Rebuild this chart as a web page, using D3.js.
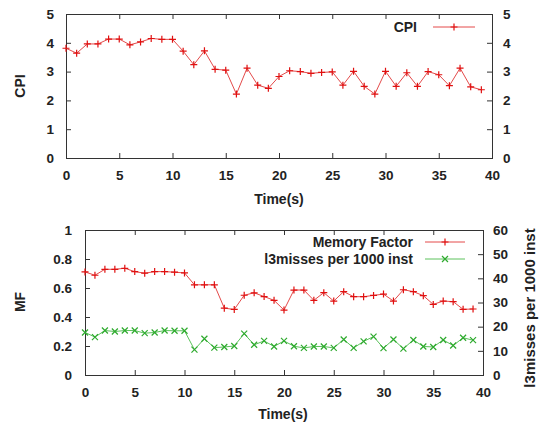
<!DOCTYPE html>
<html>
<head>
<meta charset="utf-8">
<script src="https://cdn.jsdelivr.net/npm/d3@7"></script>
<style>
  body { margin: 0; background: #fff; }
  #vis { width: 539px; height: 429px; }
  text { font-family: "Liberation Sans", Arial, sans-serif; font-weight: bold; fill: #222; }
</style>
</head>
<body>
<div id="vis"></div>
<script>
// time in seconds
var seconds = [0, 1, 2, 3, 4, 5, 6, 7, 8, 9, 10, 11, 12, 13, 14, 15, 16, 17, 18, 19,
    20, 21, 22, 23, 24, 25, 26, 27, 28, 29, 30, 31, 32, 33, 34, 35, 36, 37, 38, 39];

var cpi = [3.81, 3.64, 3.96, 3.96, 4.13, 4.13, 3.93, 4.03, 4.15, 4.12,
    4.12, 3.71, 3.24, 3.72, 3.08, 3.05, 2.22, 3.12, 2.53, 2.42,
    2.83, 3.03, 3.00, 2.94, 2.97, 2.99, 2.53, 3.01, 2.49, 2.22,
    3.01, 2.49, 2.96, 2.49, 3.00, 2.89, 2.51, 3.12, 2.47, 2.37];

var memory_factor = [0.711, 0.688, 0.729, 0.729, 0.736, 0.713, 0.702, 0.713, 0.713, 0.709,
    0.704, 0.622, 0.622, 0.622, 0.461, 0.452, 0.550, 0.567, 0.541, 0.515,
    0.448, 0.586, 0.586, 0.515, 0.568, 0.510, 0.575, 0.540, 0.540, 0.549,
    0.558, 0.510, 0.588, 0.575, 0.547, 0.487, 0.510, 0.506, 0.453, 0.455];

var l3_misses = [17.6, 15.7, 18.4, 18.0, 18.4, 18.4, 17.3, 17.6, 18.4, 18.3,
    18.3, 10.5, 15.0, 11.3, 11.6, 12.0, 17.1, 12.5, 14.1, 11.8,
    14.1, 11.9, 11.2, 11.8, 11.8, 11.2, 14.7, 11.2, 13.9, 15.9,
    11.1, 14.7, 10.9, 14.5, 11.8, 11.6, 14.5, 12.2, 15.4, 14.4];

var x_ticks = [0, 5, 10, 15, 20, 25, 30, 35, 40];
var cpi_ticks = [0, 1, 2, 3, 4, 5];
var mf_ticks = [0, 0.2, 0.4, 0.6, 0.8, 1];
var miss_ticks = [0, 10, 20, 30, 40, 50, 60];

var red_line = '#e44a4a', red_mark = '#e01010';
var green_line = '#5cc25c', green_mark = '#2eaa2e';

var svg = d3.select('#vis')
    .append('svg')
    .attr('width', 539)
    .attr('height', 429);

var plus_path = 'M-3.5,0H3.5M0,-3.5V3.5';
var cross_path = 'M-3,-3L3,3M-3,3L3,-3';
var plain = d3.format('');

function styleAxis(g, size) {
    g.select('.domain').remove();
    g.selectAll('.tick line').attr('stroke', '#333');
    g.selectAll('.tick text')
        .attr('font-family', null)
        .attr('fill', null)
        .style('font-size', size + 'px');
    g.attr('font-family', null).attr('font-size', null);
}

function frame(box) {
    svg.append('rect')
        .attr('x', box.left + 0.5)
        .attr('y', box.top + 0.5)
        .attr('width', box.right - box.left)
        .attr('height', box.bottom - box.top)
        .attr('fill', 'none')
        .attr('stroke', '#333');
}

function series(xs, ys, values, line_col, mark_col, marker) {
    var line = d3.line()
        .x(function(d, i) { return xs(seconds[i]); })
        .y(function(d) { return ys(d); });

    svg.append('path')
        .datum(values)
        .attr('d', line)
        .attr('fill', 'none')
        .attr('stroke', line_col)
        .attr('stroke-width', 1);

    svg.selectAll(null)
        .data(values)
        .enter()
        .append('path')
        .attr('d', marker)
        .attr('transform', function(d, i) {
            return 'translate(' + xs(seconds[i]) + ',' + ys(d) + ')';
        })
        .attr('fill', 'none')
        .attr('stroke', mark_col)
        .attr('stroke-width', 1.2);
}

function legendEntry(label, text_x, y, x1, x2, line_col, mark_col, marker) {
    svg.append('text')
        .attr('x', text_x)
        .attr('y', y + 5)
        .attr('text-anchor', 'end')
        .style('font-size', '14px')
        .text(label);
    svg.append('line')
        .attr('x1', x1).attr('x2', x2)
        .attr('y1', y).attr('y2', y)
        .attr('stroke', line_col);
    svg.append('path')
        .attr('d', marker)
        .attr('transform', 'translate(' + ((x1 + x2) / 2) + ',' + y + ')')
        .attr('fill', 'none')
        .attr('stroke', mark_col)
        .attr('stroke-width', 1.2);
}

// ---- top panel: CPI
var top_box = {left: 66, right: 492, top: 14, bottom: 158};

var x_top = d3.scaleLinear().domain([0, 40]).range([top_box.left, top_box.right]);
var y_cpi = d3.scaleLinear().domain([0, 5]).range([top_box.bottom, top_box.top]);

svg.append('g')
    .attr('transform', 'translate(0,' + top_box.bottom + ')')
    .call(d3.axisBottom(x_top).tickValues(x_ticks).tickSize(-5).tickPadding(12).tickFormat(plain))
    .call(styleAxis, 13.5);
svg.append('g')
    .attr('transform', 'translate(0,' + top_box.top + ')')
    .call(d3.axisTop(x_top).tickValues(x_ticks).tickSize(-5).tickFormat(''))
    .call(styleAxis, 13.5);
svg.append('g')
    .attr('transform', 'translate(' + top_box.left + ',0)')
    .call(d3.axisLeft(y_cpi).tickValues(cpi_ticks).tickSize(-5).tickPadding(12).tickFormat(plain))
    .call(styleAxis, 13.5);
svg.append('g')
    .attr('transform', 'translate(' + top_box.right + ',0)')
    .call(d3.axisRight(y_cpi).tickValues(cpi_ticks).tickSize(-5).tickPadding(11).tickFormat(plain))
    .call(styleAxis, 13.5);

frame(top_box);
series(x_top, y_cpi, cpi, red_line, red_mark, plus_path);
legendEntry('CPI', 417, 27, 433, 475, red_line, red_mark, plus_path);

svg.append('text')
    .attr('x', 279).attr('y', 204)
    .attr('text-anchor', 'middle')
    .style('font-size', '14px')
    .text('Time(s)');
svg.append('text')
    .attr('transform', 'translate(25,86) rotate(-90)')
    .attr('text-anchor', 'middle')
    .style('font-size', '14px')
    .text('CPI');

// ---- bottom panel: memory factor and l3 misses
var bot_box = {left: 85, right: 483, top: 230, bottom: 375};

var x_bot = d3.scaleLinear().domain([0, 40]).range([bot_box.left, bot_box.right]);
var y_mf = d3.scaleLinear().domain([0, 1]).range([bot_box.bottom, bot_box.top]);
var y_miss = d3.scaleLinear().domain([0, 60]).range([bot_box.bottom, bot_box.top]);

svg.append('g')
    .attr('transform', 'translate(0,' + bot_box.bottom + ')')
    .call(d3.axisBottom(x_bot).tickValues(x_ticks).tickSize(-5).tickPadding(12).tickFormat(plain))
    .call(styleAxis, 13.5);
svg.append('g')
    .attr('transform', 'translate(0,' + bot_box.top + ')')
    .call(d3.axisTop(x_bot).tickValues(x_ticks).tickSize(-5).tickFormat(''))
    .call(styleAxis, 13.5);
svg.append('g')
    .attr('transform', 'translate(' + bot_box.left + ',0)')
    .call(d3.axisLeft(y_mf).tickValues(mf_ticks).tickSize(-5).tickPadding(13).tickFormat(plain))
    .call(styleAxis, 13.5);
svg.append('g')
    .attr('transform', 'translate(' + bot_box.right + ',0)')
    .call(d3.axisRight(y_miss).tickValues(miss_ticks).tickSize(-5).tickPadding(10).tickFormat(plain))
    .call(styleAxis, 13.5);

frame(bot_box);
series(x_bot, y_mf, memory_factor, red_line, red_mark, plus_path);
series(x_bot, y_miss, l3_misses, green_line, green_mark, cross_path);
legendEntry('Memory Factor', 413, 242, 425, 465, red_line, red_mark, plus_path);
legendEntry('l3misses per 1000 inst', 413, 259, 425, 465, green_line, green_mark, cross_path);

svg.append('text')
    .attr('x', 283).attr('y', 419)
    .attr('text-anchor', 'middle')
    .style('font-size', '14px')
    .text('Time(s)');
svg.append('text')
    .attr('transform', 'translate(25,302) rotate(-90)')
    .attr('text-anchor', 'middle')
    .style('font-size', '14px')
    .text('MF');
svg.append('text')
    .attr('transform', 'translate(535,308) rotate(-90)')
    .attr('text-anchor', 'middle')
    .style('font-size', '15px')
    .text('l3misses per 1000 inst');
</script>
</body>
</html>
